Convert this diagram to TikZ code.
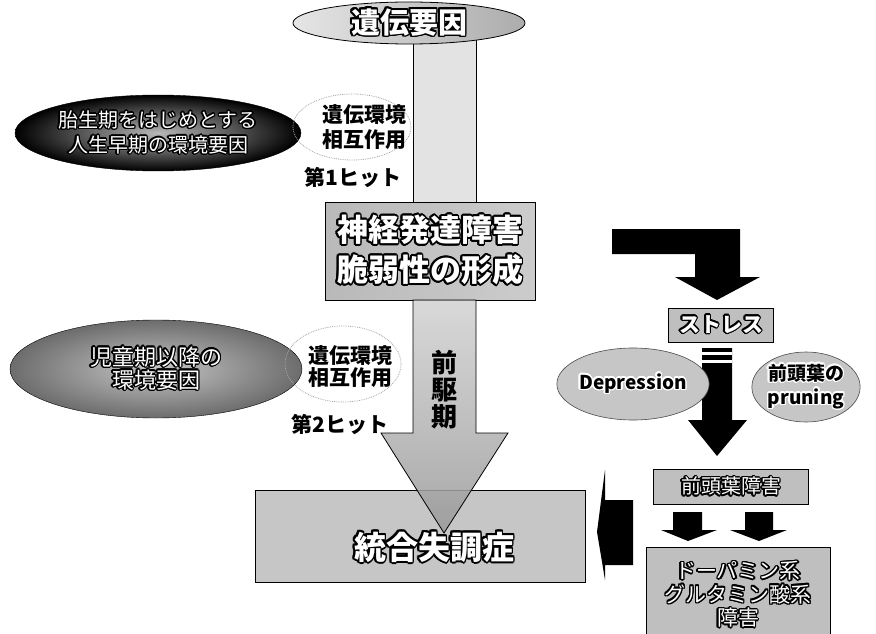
\documentclass[tikz,border=0pt]{standalone}
\usepackage{fontspec}
\setmainfont{Noto Sans CJK JP}
\usepackage{contour}
\contourlength{1.4pt}
\usetikzlibrary{shapes.geometric}
\newcommand\jfs[2]{\fontsize{#1}{#2}\selectfont}
\newcommand\wtxt[1]{\contour{black}{#1}}
\newcommand\btxt[1]{\contour{white}{#1}}
\tikzset{
  graybox/.style={rectangle, draw=black, line width=1pt, fill=gray!50, inner sep=0pt},
  grayell/.style={ellipse, draw=black!70, line width=0.6pt, fill=gray!45, inner sep=0pt},
  darkell/.style={ellipse, draw=black, inner sep=0pt, inner color=gray!55, outer color=black},
  dotell/.style={ellipse, draw=gray!70, densely dotted, line width=0.8pt, inner sep=0pt},
  whitetext/.style={text=white, align=center},
  hit/.style={font=\bfseries\jfs{21}{22}, text=black}
}
\begin{document}
\begin{tikzpicture}[x=1pt,y=-1pt]
\useasboundingbox (0,0) rectangle (876,634);
\fill[white] (0,0) rectangle (876,634);

% upper shaft
\coordinate (s1a) at (413,38);
\coordinate (s1b) at (476,205);
\draw[black, fill=gray!22] (s1a) rectangle (s1b);

% top ellipse
\node[ellipse, draw=black, line width=0.8pt, inner sep=0pt, minimum width=232, minimum height=42,
      left color=gray!20, right color=gray!65, whitetext, font=\bfseries\jfs{29}{30}] (gene) at (409,23) {\contourlength{1.8pt}\wtxt{遺伝要因}};

% vulnerability box
\node[graybox, minimum width=210, minimum height=98, left color=gray!55, right color=gray!40, whitetext,
      font=\bfseries\jfs{31}{40}] (vuln) at (430,251) {\contourlength{1.8pt}\wtxt{神経発達障害}\\\contourlength{1.8pt}\wtxt{脆弱性の形成}};

% schizophrenia box
\node[graybox, minimum width=330, minimum height=92, fill=gray!45] (schiz) at (420,536) {};

% lower arrow
\coordinate (a1) at (413,300);
\coordinate (a2) at (476,300);
\coordinate (a3) at (476,433);
\coordinate (a4) at (508,433);
\coordinate (tip) at (444,533);
\coordinate (a6) at (381,433);
\coordinate (a7) at (413,433);
\draw[black, line width=0.8pt, top color=gray!35, bottom color=gray!80, fill opacity=0.85]
  (a1) -- (a2) -- (a3) -- (a4) -- (tip) -- (a6) -- (a7) -- cycle;

\node[font=\bfseries\jfs{26}{27}, align=center, text=black] (pre) at (444,390) {前\\駆\\期};

\node[whitetext, font=\bfseries\jfs{32}{34}] (schizt) at (434,548) {\contourlength{1.8pt}\wtxt{統合失調症}};

% left ellipses
\node[darkell, minimum width=286, minimum height=76, whitetext, font=\jfs{20}{25}] (early) at (158,133)
  {\wtxt{胎生期をはじめとする}\\\wtxt{人生早期の環境要因}};
\node[dotell, minimum width=118, minimum height=66] (gx1) at (352,127) {};
\node[font=\bfseries\jfs{21}{25}, align=center] (gx1t) at (364,127) {遺伝環境\\相互作用};
\node[hit] (hit1) at (353,178) {第1ヒット};

\node[ellipse, draw=black, inner sep=0pt, inner color=gray!45, outer color=gray!85!black,
      minimum width=292, minimum height=98, whitetext, font=\jfs{22}{23}] (child) at (156,369)
  {\wtxt{児童期以降の}\\\wtxt{環境要因}};
\node[dotell, minimum width=116, minimum height=76] (gx2) at (343,364) {};
\node[font=\bfseries\jfs{21}{22}, align=center] (gx2t) at (350,367) {遺伝環境\\相互作用};
\node[hit] (hit2) at (340,425) {第2ヒット};

% right side
\fill[black] (612,229) -- (740,229) -- (740,277) -- (760,277) -- (717,300) -- (675,277)
  -- (695,277) -- (695,254) -- (612,254) -- cycle;

\node[graybox, line width=0.6pt, minimum width=105, minimum height=34, whitetext, font=\bfseries\jfs{21}{22}] (stress) at (721,325) {\wtxt{ストレス}};

\coordinate (st1) at (702,348);
\coordinate (st2) at (732,348);
\fill[black] (st1) -- (st2) -- (732,420) -- (747,420) -- (717,456) -- (688,420) -- (702,420) -- cycle;
\fill[white] (702,352) rectangle (732,355);
\fill[white] (702,360) rectangle (732,363);

\node[grayell, minimum width=116, minimum height=72, font=\bfseries\jfs{19}{20}] (dep) at (633,384) {\btxt{Depression}};
\node[grayell, minimum width=108, minimum height=70, font=\bfseries\jfs{19}{24}, align=center] (prun) at (806,387)
  {\btxt{前頭葉の}\\\btxt{pruning}};

\node[graybox, line width=0.6pt, minimum width=155, minimum height=35, whitetext, font=\jfs{20}{21}] (pfc) at (731,487) {\wtxt{前頭葉障害}};

\fill[black] (673,512) -- (702,512) -- (702,530) -- (717,530) -- (688,541) -- (661,530) -- (673,530) -- cycle;
\fill[black] (745,512) -- (773,512) -- (773,530) -- (787,530) -- (759,541) -- (730,530) -- (745,530) -- cycle;

\node[graybox, line width=0.6pt, minimum width=184, minimum height=96, whitetext, font=\jfs{21}{23.5}] (dopa) at (738,595)
  {\wtxt{ドーパミン系}\\\wtxt{グルタミン酸系}\\\wtxt{障害}};

\fill[black] (633,500) -- (633,565) -- (605,565) -- (605,580) -- (597,532) -- (605,470) -- (605,500) -- cycle;
\end{tikzpicture}
\end{document}
